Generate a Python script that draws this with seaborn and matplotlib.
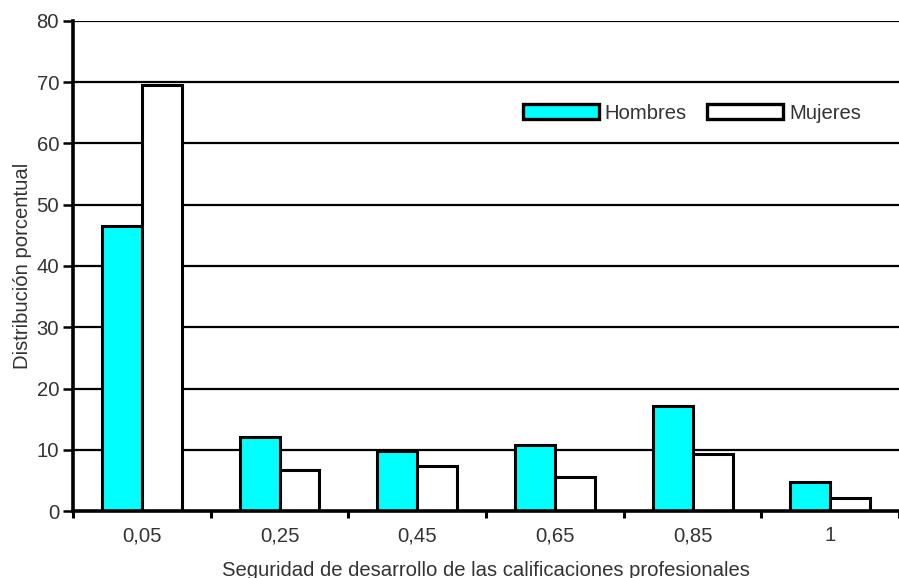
import matplotlib
matplotlib.use("Agg")
import matplotlib.pyplot as plt
import seaborn as sns
import pandas as pd
import numpy as np

categories = ["0,05", "0,25", "0,45", "0,65", "0,85", "1"]
hombres = [46.6, 12.1, 9.8, 10.7, 17.2, 4.8]
mujeres = [69.5, 6.7, 7.3, 5.5, 9.3, 2.1]
series_names = ["Hombres", "Mujeres"]
yticks = [0, 10, 20, 30, 40, 50, 60, 70, 80]

df = pd.DataFrame({
    "categoria": categories * 2,
    "valor": hombres + mujeres,
    "sexo": [series_names[0]] * len(categories) + [series_names[1]] * len(categories),
})

sns.set_theme(style="white")
plt.rcParams["font.family"] = ["Liberation Sans", "DejaVu Sans"]
text_color = "#333333"
fs = 14.6

fig = plt.figure(figsize=(8.99, 5.78), dpi=100)
ax = fig.add_axes([0.0812, 0.1159, 0.919, 0.8478])

for v in yticks[1:]:
    ax.axhline(v, color="black", lw=1.6, zorder=0)

sns.barplot(data=df, x="categoria", y="valor", hue="sexo", order=categories,
            hue_order=series_names, palette=["#00FFFF", "#FFFFFF"],
            width=0.58, gap=0, edgecolor="black", linewidth=2.2,
            saturation=1, ax=ax, zorder=2)

ax.set_ylim(0, 80)
ax.set_xlim(-0.5, len(categories) - 0.5)
ax.set_yticks(yticks)
ax.set_yticklabels([str(t) for t in yticks], fontsize=fs, color=text_color)
ax.set_xticks(range(len(categories)))
ax.set_xticklabels(categories, fontsize=fs, color=text_color)
ax.set_xticks(np.arange(-0.5, len(categories), 1.0), minor=True)
ax.tick_params(axis="x", which="major", length=0, pad=11)
ax.tick_params(axis="x", which="minor", length=5, width=2.2, color="black", direction="out", bottom=True)
ax.tick_params(axis="y", length=7, width=1.8, color="black", direction="out", left=True, pad=3)

for side in ["left", "bottom"]:
    ax.spines[side].set_color("black")
    ax.spines[side].set_linewidth(2.6)
    ax.spines[side].set_zorder(3)
ax.spines["right"].set_visible(False)
ax.spines["top"].set_visible(False)

ax.set_xlabel("Seguridad de desarrollo de las calificaciones profesionales",
              fontsize=fs, color=text_color, labelpad=11)
ax.set_ylabel("Distribución porcentual", fontsize=fs, color=text_color, labelpad=3)

leg = ax.legend(loc="center left", bbox_to_anchor=(0.527, 0.812), ncol=2, frameon=False,
                fontsize=fs, handlelength=3.75, handleheight=0.8, handletextpad=0.3,
                columnspacing=1.0, labelcolor=text_color, borderpad=0.2)
for h in leg.get_patches():
    h.set_linewidth(2.4)
    h.set_edgecolor("black")

fig.savefig("out.png", dpi=100)
